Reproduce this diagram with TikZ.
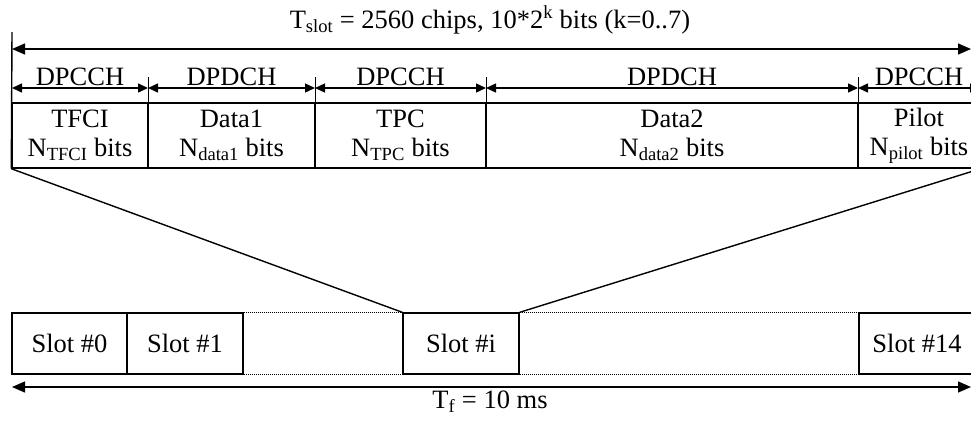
\documentclass[tikz,border=0pt]{standalone}
\usepackage{fontspec}
\setmainfont{Liberation Serif}
\usetikzlibrary{arrows.meta,positioning}
\newcommand{\dfont}{\fontsize{26.5}{29}\selectfont}

\begin{document}
\begin{tikzpicture}[x=1pt, y=-1pt, line width=1.4pt, font=\dfont,
  fld/.style={rectangle, draw, minimum height=65pt, inner sep=0pt, align=center},
  slotbox/.style={rectangle, draw, minimum width=116pt, minimum height=61pt, inner sep=0pt},
  chan/.style={{Triangle[length=10pt,width=9pt]}-{Triangle[length=10pt,width=9pt]}},
  span/.style={{Triangle[length=13pt,width=11pt]}-{Triangle[length=13pt,width=11pt]}},
  lbl/.style={above, inner sep=2pt},
  gap/.style={line width=1pt, dash pattern=on 1pt off 1pt}
]
  \path[use as bounding box, clip] (0,0) rectangle (971,421);

  % slot length
  \node[anchor=base] (tslot) at (490,28) {T\textsubscript{slot} = 2560 chips, 10*2\textsuperscript{k} bits (k=0..7)};
  \coordinate (tl) at (12,49);
  \coordinate (tr) at (971,49);
  \draw[span] (tl) -- (tr);

  % fields of one slot
  \node[fld, minimum width=136pt] (tfci) at (80,135.5) {TFCI\\N\textsubscript{TFCI} bits};
  \node[fld, minimum width=167pt] (data1) at (231.5,135.5) {Data1\\N\textsubscript{data1} bits};
  \node[fld, minimum width=171pt] (tpc) at (400.5,135.5) {TPC\\N\textsubscript{TPC} bits};
  \node[fld, minimum width=372pt] (data2) at (672,135.5) {Data2\\N\textsubscript{data2} bits};
  \node[fld, minimum width=122pt] (pilot) at (919,135.5) {Pilot\\N\textsubscript{pilot} bits};

  \coordinate (d0) at (12,88);
  \coordinate (d1) at (148,88);
  \coordinate (d2) at (315,88);
  \coordinate (d3) at (486,88);
  \coordinate (d4) at (858,88);
  \coordinate (d5) at (980,88);
  \draw[chan] (d0) -- node[lbl] (c0) {DPCCH} (d1);
  \draw[chan] (d1) -- node[lbl] (c1) {DPDCH} (d2);
  \draw[chan] (d2) -- node[lbl] (c2) {DPCCH} (d3);
  \draw[chan] (d3) -- node[lbl] (c3) {DPDCH} (d4);
  \draw[chan] (d4) -- node[lbl] (c4) {DPCCH} (d5);
  \foreach \d in {d1,d2,d3,d4}
    \draw[line width=1pt] ([yshift=11pt]\d) -- (\d |- tfci.south);
  \draw (12,32) -- (tfci.south west);

  % radio frame
  \node[slotbox, minimum width=115pt] (s0) at (69.5,343.5) {Slot \#0};
  \node[slotbox] (s1) at (185,343.5) {Slot \#1};
  \node[slotbox] (si) at (461,343.5) {Slot \#i};
  \node[slotbox] (s14) at (917,343.5) {Slot \#14};
  \draw[gap] (s1.north east) -- (si.north west);
  \draw[gap] (s1.south east) -- (si.south west);
  \draw[gap] (si.north east) -- (s14.north west);
  \draw[gap] (si.south east) -- (s14.south west);

  % zoom
  \draw (tfci.south west) -- (si.north west);
  \draw (pilot.south east) -- (si.north east);

  \coordinate (bl) at (12,387);
  \coordinate (br) at (971,387);
  \draw[span] (bl) -- (br);
  \node[anchor=base] (tf) at (490,408) {T\textsubscript{f} = 10 ms};
\end{tikzpicture}
\end{document}
